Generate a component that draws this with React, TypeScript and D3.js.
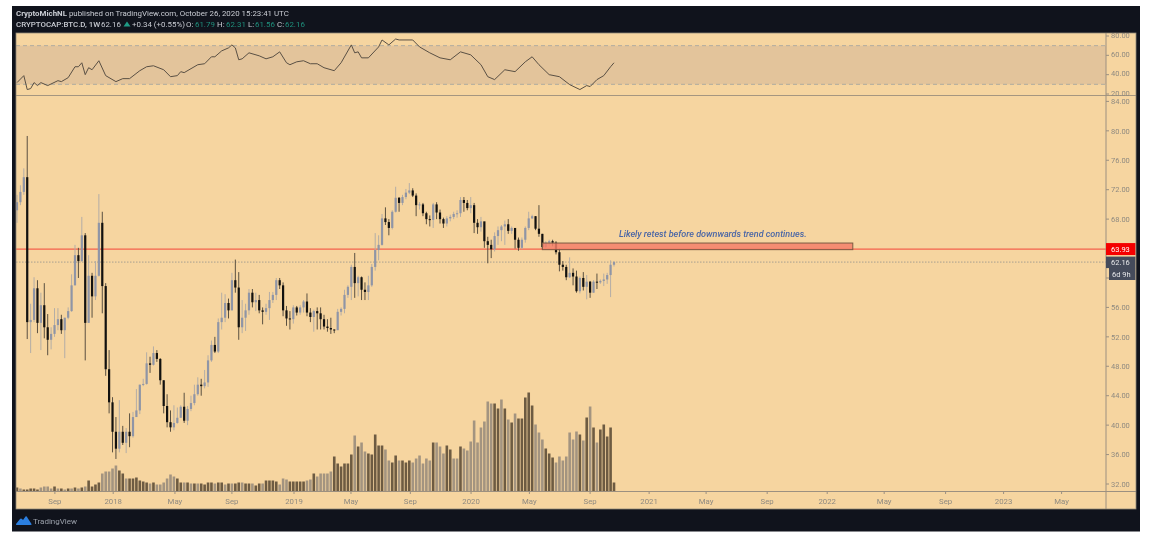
import React from "react";
import * as d3 from "d3";

const firstOpen = 69.2;
const closes = [
  70.3,71.7,73.7,54,54.3,58.6,53.9,56.3,53.3,51.6,
  52.4,53.6,54.4,52.9,54.6,55.5,59,63.1,62.3,65.8,
  53.9,60.3,57.5,60.3,67.5,58.9,47.6,43.1,39.1,36.8,
  39.1,37.6,39.1,38.5,41.1,42,45.5,45.6,48.4,48.2,
  49.8,49,46.1,42.6,40.4,39.7,40.3,41,42.5,40.6,
  42.2,43,44.2,45.5,45.3,45.8,48.8,50.9,50,54,
  54.6,56.6,55.6,59.7,58.7,53.3,54.6,55.6,58,56.7,
  57,55.6,55.4,55.9,57,57.7,59.7,59,55.6,54.5,
  54.4,56,55.3,56,56.8,55.3,54.7,55.5,55.2,54.4,
  53.4,53.2,53,52.9,55.4,55.8,57.7,58.8,61.5,59.3,
  60.1,58.4,58.1,59,61.5,63.8,64.5,68.1,67.6,66.8,
  69,70.9,70.2,71,71.6,71.9,71.2,69.9,70,68.8,
  68,67.9,70,68.9,68,67.4,68.1,68.3,68.7,68.8,
  70.6,70.2,69.5,69.9,67.5,66.9,67.7,65,64.5,63.9,
  65.7,66.5,67,67.3,66.4,66.8,65.2,64.1,65.2,66.8,
  68.1,68.4,66.7,66,64.2,64.8,65,64.8,63.5,61.8,
  61.5,60.1,60.7,60.2,58.2,60,58.8,59.5,58,59.5,
  59.4,59.6,59.8,60.4,61.8,62.16,
];
const highs = [
  71.3,72.6,74.9,79.3,56.5,60.1,59.7,58,59.3,55.1,
  53.3,55.9,55.9,55,54.6,56,60.5,64.5,64.1,68.3,
  66.1,63.1,60.7,62.3,71.4,69,59.3,50.2,43.8,41.1,
  43.4,39.9,39.6,41.6,41.8,44.9,45.5,46.3,49.9,49.3,
  50.7,50.2,49.1,46.1,44.2,42,42.7,42.4,42.7,44.4,
  42.6,44,45.5,46.5,46.3,47.5,49.5,51.5,52,54.5,
  58,57.8,57.2,60.7,62.5,60.8,57,56.5,58.5,58.5,
  58,57.7,56,56.5,58.1,58.1,60,60,59.4,56.2,
  55.5,56.3,56.2,56.3,57,57.9,55.9,55.7,56,56,
  55,54.4,54.6,53,55.8,56,58.4,59,61.8,63.4,
  60.3,60.2,59.4,60.3,61.9,66.1,65.8,68.7,69.6,68,
  69.2,72.4,71,71.3,72.1,72.9,72.2,71.5,70.3,70.2,
  69,68.5,70.2,70.3,69.3,68.2,68.4,68.6,69,69.2,
  71,71,70.6,71,70.2,68,68.3,67.6,65.6,65.2,
  66.2,67,67.2,67.8,68,67,66.6,65.5,65.5,67,
  69,68.6,68.4,69.9,66,65,65.2,65.2,65,64,
  62.3,61.8,62.8,61.3,61,60.2,60.8,60.4,59.6,59.7,
  60.6,59.8,60.6,60.7,62.4,62.31,
];
const lows = [
  67.5,69.9,71.3,51.7,49.8,54,52.5,50.2,51.8,49.5,
  50.3,52,52.9,52.4,49.1,54.4,55.4,59,60,62.2,
  48.8,53.9,54.6,57,60.2,55.2,46.7,41.6,36.3,35.4,
  36.3,37.3,36.2,37,38.3,41.5,41.5,45.3,45.5,47.1,
  48.1,48.6,45.5,41.6,39.7,39.1,39.3,40.2,41,40.3,
  40,41.9,42.7,44,44,45,45.2,48.6,49.8,49.8,
  53,54,54.5,55.6,58,51.6,52.5,52.8,55,56,
  55.5,55.2,53.7,55,54.3,56.6,57,58.5,54.8,53.5,
  53,53.8,54.9,55,55.3,54.8,54,52.7,53,53,
  53,52.7,52.4,52.5,53,54.9,55.2,57.3,57,57.3,
  57.5,57,57,57,58.8,61,62.4,64.4,67.2,65.8,
  66.6,68.9,69,69.9,70.7,71.4,71,68.4,69.3,68.4,
  67.3,67,66.8,68,67.4,66.8,67,67.7,68,68.2,
  68.3,69,69.2,68.8,66.1,66,66.3,64.1,62,62.7,
  63.6,64.5,65,64.5,66,66,64,63.7,63.9,64.8,
  66.5,68,66.5,65.6,63.9,64.1,64.4,64.3,63.2,60.9,
  61,59.7,60,59,58,57.9,58.3,57.1,57.3,58,
  58.5,59.2,58.9,59.2,57.4,61.56,
];
const volumes = [
  4,3,2,2,3,3,2,4,5,5,3,5,3,3,2,3,3,4,3,4,
  5,11,5,7,9,18,20,20,23,26,21,18,13,13,13,14,11,10,9,8,
  9,7,7,9,13,17,15,13,9,9,9,8,8,8,8,7,9,9,8,9,
  9,7,8,8,8,9,9,8,8,8,6,8,8,11,11,11,10,7,13,12,
  10,10,10,10,10,11,12,18,15,18,18,18,20,35,28,25,28,28,37,56,
  45,49,40,38,37,57,46,46,42,31,29,36,31,31,29,31,29,33,36,28,
  33,31,49,49,45,38,46,42,33,33,45,43,41,50,71,49,64,70,90,88,
  88,83,92,83,72,69,78,73,73,94,99,86,67,59,52,43,38,34,29,35,
  31,35,59,52,60,57,51,74,85,64,49,62,67,55,64,9,
];
const volumeDark = [
  1,0,1,1,1,1,1,0,0,0,0,1,0,1,0,1,0,1,0,1,
  0,1,1,1,1,0,0,0,0,0,1,1,0,1,1,1,1,1,1,0,
  1,0,0,0,0,0,0,1,1,0,1,0,1,0,1,1,1,1,0,1,
  1,0,1,0,1,1,0,1,1,0,1,1,0,1,1,1,1,0,0,0,
  1,1,1,1,1,0,0,1,0,0,0,0,0,1,1,1,1,1,1,0,
  1,0,0,1,1,1,1,1,0,0,1,1,0,1,1,1,0,0,0,0,
  0,0,1,0,0,0,1,1,0,0,1,0,0,0,0,0,0,0,0,0,
  1,1,0,1,0,1,0,1,1,1,1,1,0,0,0,1,1,1,0,0,
  0,0,0,0,0,1,0,1,0,1,0,1,1,1,1,1,
];
const rsiWeeks = [0,2,3,4,5,6,7,9,12,13,15,17,18,19,20,21,22,24,26,29,31,33,36,38,40,43,45,47,48,49,53,55,57,58,60,62,63,64,65,66,68,71,73,75,77,79,80,82,84,86,88,90,93,95,98,99,100,101,103,106,107,109,111,112,116,118,121,124,127,130,133,136,138,140,143,146,149,151,153,156,159,162,165,167,168,170,172,174,175];
const rsiValues = [31.8,39,24.6,25.6,31.8,28.7,31.8,28.7,33.8,32.8,36.9,48.2,48.2,52.3,40,47.2,45.1,54.4,39,32.8,35.9,35.9,44.1,48.2,49.2,45.1,37.9,39,43.1,42.1,50.3,51.3,58.5,58.5,64.6,67.7,70.8,67.7,55.4,56.4,62.6,59.5,56.4,58.5,63.6,52.3,50.3,53.3,54.4,51.3,51.3,47.2,44.1,52.3,70.8,62.6,63.6,57.4,57.4,68.7,75.9,70.8,76.9,75.9,75.9,68.7,62.6,57.4,55.4,63.6,60.5,50.3,37.9,34.9,45.1,43.1,53.3,58.5,50.3,40,37.9,29.7,24.6,28.7,27.7,34.9,39,48.2,52.3];

const timeTickWeeks = [11.1,28.2,46.3,63,81.2,97.9,115.3,133.1,150.2,168,185.3,202,219.9,237.5,254.2,272.2,289.2,306.2];
const timeTickLabels = ["Sep","2018","May","Sep","2019","May","Sep","2020","May","Sep","2021","May","Sep","2022","May","Sep","2023","May"];
const priceTicks = [84,80,76,72,68,64,60,56,52,48,44,40,36,32];
const hiddenPriceLabels = [64,60];
const rsiTicks = [80,60,40,20];
const rsiBand = [70,30];
const resistance = 63.93;
const lastPrice = 62.16;
const countdown = "6d 9h";
const zoneWeeks = [154,245];
const zonePrices = [64.75,63.85];
const noteText = "Likely retest before downwards trend continues.";
const headerLine = "published on TradingView.com, October 26, 2020 15:23:41 UTC";

const BG = "#f6d5a0";
const FRAME = "#10131c";
const AXIS = "#9c9080";
const TXT = "#8f8a80";
const UI = "Roboto, 'Open Sans', sans-serif";

const L = 16, R = 1136, AX = 1106, TOP = 33, SEP = 95.5, BASE = 491.5, BOT = 509;

export default function App() {
  const x = d3.scaleLinear().domain([0, 175]).range([17, 614]);
  const y = d3.scaleLinear().domain([32, 84]).range([484, 101.4]);
  const yr = d3.scaleLinear().domain([20, 80]).range([94, 36]);
  const yv = d3.scaleLinear().domain([0, 100]).range([BASE, BASE - 100]);
  const rsiLine = d3.line<number>()
    .x((_, i) => x(rsiWeeks[i]))
    .y((d) => yr(d))
    .curve(d3.curveLinear);
  const bw = 2.6;

  return (
    <svg width={1154} height={540} viewBox="0 0 1154 540"
      style={{ position: "absolute", left: 0, top: 0, background: "#fff", filter: "blur(0.45px)" }}
      fontFamily={UI}>
      <rect x={12} y={6} width={1128} height={525.5} fill={FRAME} />
      <rect x={L} y={TOP} width={R - L} height={BOT - TOP} fill={BG} />

      {/* header */}
      <text x={16} y={16} fontSize={7.9} fill="#c9ccd3">
        <tspan fontWeight={700}>CryptoMichNL</tspan>
        <tspan> {headerLine}</tspan>
      </text>
      <g fontSize={7.9} fill="#c9ccd3">
        <text x={16} y={26.5} fontWeight={500}>CRYPTOCAP:BTC.D, 1W</text>
        <text x={101} y={26.5}>62.16</text>
        <path d="M123.5 26.5 L127 21.5 L130.5 26.5 Z" fill="#1f9a85" />
        <text x={132} y={26.5}>+0.34 (+0.55%)</text>
        <text x={186} y={26.5}>O:</text><text x={195} y={26.5} fill="#1f8f7c">61.79</text>
        <text x={217} y={26.5}>H:</text><text x={226} y={26.5} fill="#1f8f7c">62.31</text>
        <text x={248} y={26.5}>L:</text><text x={255} y={26.5} fill="#1f8f7c">61.56</text>
        <text x={277} y={26.5}>C:</text><text x={285} y={26.5} fill="#1f8f7c">62.16</text>
      </g>

      {/* RSI pane */}
      <rect x={L} y={yr(rsiBand[0])} width={AX - L} height={yr(rsiBand[1]) - yr(rsiBand[0])} fill="#e3c49b" />
      {rsiBand.map((v) => (
        <line key={v} x1={L} x2={AX} y1={yr(v)} y2={yr(v)} stroke="#a8a8a0" strokeWidth={0.9} strokeDasharray="4 3" />
      ))}
      <path d={rsiLine(rsiValues) ?? ""} fill="none" stroke="#5a5044" strokeWidth={1} />
      <line x1={L} x2={R} y1={SEP} y2={SEP} stroke="#a59680" strokeWidth={1.2} />

      {/* levels */}
      <line x1={L} x2={AX} y1={y(lastPrice)} y2={y(lastPrice)} stroke="#a8a090" strokeWidth={1} strokeDasharray="1.5 1.5" />
      <line x1={L} x2={AX} y1={y(resistance)} y2={y(resistance)} stroke="#f4604c" strokeWidth={1.2} />

      {/* volume */}
      {volumes.map((v, i) => (
        <rect key={i} x={x(i) - bw / 2} y={yv(v)} width={bw} height={BASE - yv(v)}
          fill={volumeDark[i] ? "#6d5b42" : "#a39480"} />
      ))}

      {/* candles */}
      {closes.map((c, i) => {
        const o = i === 0 ? firstOpen : closes[i - 1];
        const up = c >= o;
        const top = y(Math.max(o, c));
        const h = Math.max(1, Math.abs(y(o) - y(c)));
        return (
          <g key={i}>
            <line x1={x(i)} x2={x(i)} y1={y(highs[i])} y2={y(lows[i])}
              stroke={up ? "#b3ada6" : "#5a5040"} strokeWidth={1} />
            <rect x={x(i) - 1.1} y={top} width={2.2} height={h} fill={up ? "#8f95a6" : "#12110f"} />
          </g>
        );
      })}

      {/* annotation */}
      <rect x={x(zoneWeeks[0])} y={y(zonePrices[0])} width={x(zoneWeeks[1]) - x(zoneWeeks[0])}
        height={y(zonePrices[1]) - y(zonePrices[0])} fill="#f4806a" fillOpacity={0.85}
        stroke="#7c5a42" strokeWidth={1} />
      <text x={619} y={237} fontSize={9} fontStyle="italic" fontWeight={500} fill="#4a66a6">{noteText}</text>

      {/* axes */}
      <line x1={L} x2={R} y1={BASE} y2={BASE} stroke={AXIS} strokeWidth={1} />
      <line x1={AX} x2={AX} y1={TOP} y2={BOT} stroke={AXIS} strokeWidth={1} />
      {timeTickWeeks.map((w, i) => (
        <g key={i}>
          <line x1={x(w)} x2={x(w)} y1={BASE} y2={BASE + 2.5} stroke={AXIS} />
          <text x={x(w)} y={504} textAnchor="middle" fontSize={7.8} fill={TXT}>{timeTickLabels[i]}</text>
        </g>
      ))}
      {priceTicks.map((p) => (
        <g key={p}>
          <line x1={AX} x2={AX + 3} y1={y(p)} y2={y(p)} stroke={AXIS} />
          {hiddenPriceLabels.includes(p) ? null : (
            <text x={1111} y={y(p) + 2.7} fontSize={7.5} fill={TXT}>{p.toFixed(2)}</text>
          )}
        </g>
      ))}
      {rsiTicks.map((p) => (
        <g key={p}>
          <line x1={AX} x2={AX + 3} y1={yr(p)} y2={yr(p)} stroke={AXIS} />
          <text x={1111} y={yr(p) + 1.5} fontSize={7.5} fill={TXT}>{p.toFixed(2)}</text>
        </g>
      ))}

      {/* price tags */}
      <rect x={AX} y={y(resistance) - 6} width={29.5} height={12} fill="#f40000" />
      <text x={1111} y={y(resistance) + 2.7} fontSize={7.5} fill="#fff">{resistance.toFixed(2)}</text>
      <rect x={AX} y={y(lastPrice) - 5.5} width={29.5} height={11.5} fill="#454b5b" />
      <text x={1111} y={y(lastPrice) + 2.7} fontSize={7.5} fill="#e8e8ea">{lastPrice.toFixed(2)}</text>
      <rect x={1109} y={268} width={26.5} height={12} fill="#454b5b" />
      <text x={1112} y={277} fontSize={7.5} fill="#e8e8ea">{countdown}</text>

      {/* frame over panel edge */}
      <rect x={L} y={TOP} width={R - L} height={BOT - TOP} fill="none" stroke="#8f8778" strokeWidth={0.8} />

      {/* logo */}
      <path d="M16 524 L20 519 Q21 518 22 519 L23 520 L25.5 516.5 Q26 516 26.7 516.5 L31.5 524 Q32 525 30.5 525 L17 525 Q15.5 525 16 524 Z" fill="#2b7fe0" />
      <text x={33} y={524} fontSize={8} fill="#9aa0aa">TradingView</text>
    </svg>
  );
}
